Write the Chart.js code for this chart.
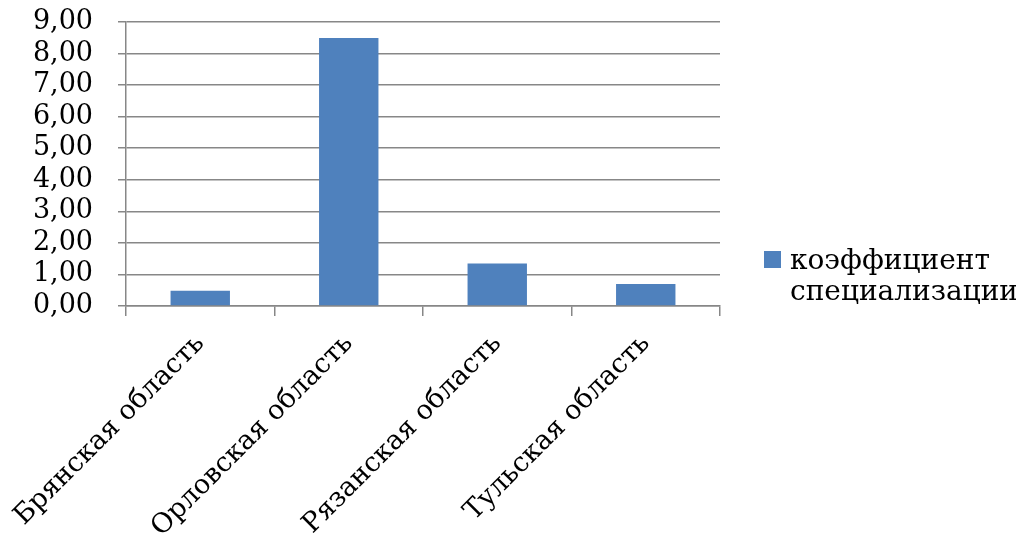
<!DOCTYPE html>
<html>
<head>
<meta charset="utf-8">
<script src="https://cdn.jsdelivr.net/npm/chart.js@4"></script>
<style>
  body { margin: 0; background: #fff; }
  #wrap { position: relative; width: 1016px; height: 540px; }
  #legend {
    position: absolute; left: 764px; top: 244px;
    font-family: 'DejaVu Serif', serif; font-size: 28px;
    line-height: 31px; color: #000; white-space: nowrap;
  }
  #legend .box {
    position: absolute; left: 0; top: 7px; width: 17px; height: 17px; background: #4f81bd;
  }
  #legend .txt { margin-left: 26px; }
</style>
</head>
<body>
<div id="wrap">
  <canvas id="chart" width="1016" height="540"></canvas>
  <div id="legend"><span class="box"></span><div class="txt">коэффициент<br>специализации</div></div>
</div>
<script>
// Данные диаграммы
const regions = ['Брянская область', 'Орловская область', 'Рязанская область', 'Тульская область'];
const coefValues = [0.48, 8.49, 1.35, 0.70];
const seriesName = 'коэффициент специализации';

const gridColor = '#878787';
const fontFamily = "'DejaVu Serif', serif";

new Chart(document.getElementById('chart'), {
    type: 'bar',
    data: {
        labels: regions,
        datasets: [{
            label: seriesName,
            data: coefValues,
            backgroundColor: '#4f81bd',
            barPercentage: 0.4,
            categoryPercentage: 1.0
        }]
    },
    options: {
        responsive: false,
        animation: false,
        layout: { padding: { top: 22, right: 296, left: 0, bottom: 0 } },
        plugins: { legend: { display: false }, tooltip: { enabled: false } },
        scales: {
            x: {
                grid: { offset: true, drawOnChartArea: false, drawTicks: true, tickLength: 10, color: gridColor, lineWidth: 1.5 },
                border: { color: gridColor, width: 1.5 },
                ticks: {
                    autoSkip: false,
                    maxRotation: 45, minRotation: 45, padding: 12,
                    color: '#000', font: { family: fontFamily, size: 27 }
                },
                afterFit: s => { s.height = 234; s.paddingLeft = 0; s.paddingRight = 0; }
            },
            y: {
                min: 0, max: 9,
                grid: { color: gridColor, lineWidth: 1.5, tickLength: 8 },
                border: { color: gridColor, width: 1.5 },
                ticks: {
                    autoSkip: false,
                    stepSize: 1, padding: 25,
                    color: '#000', font: { family: fontFamily, size: 27 },
                    callback: v => v.toFixed(2).replace('.', ',')
                },
                afterFit: s => { s.width = 126; s.paddingTop = 0; s.paddingBottom = 0; }
            }
        }
    }
});
</script>
</body>
</html>
